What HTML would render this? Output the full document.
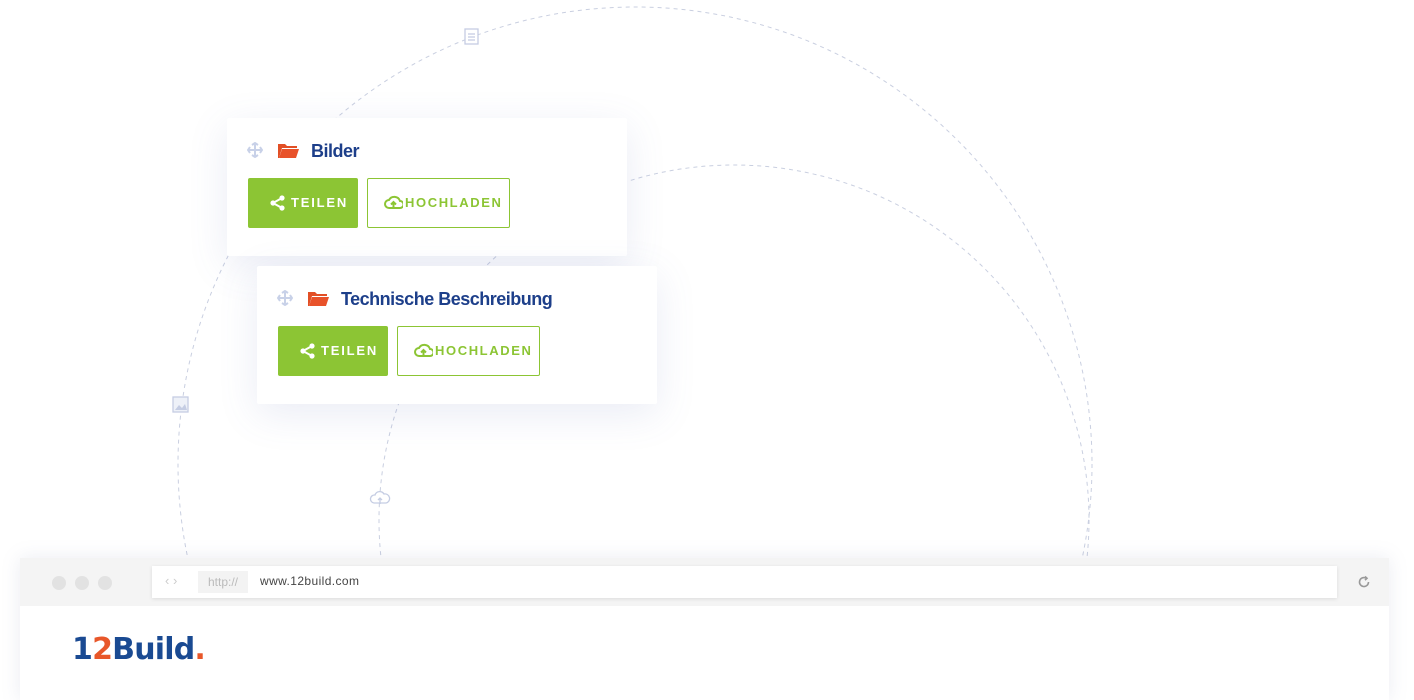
<!DOCTYPE html>
<html><head><meta charset="utf-8"><style>
*{margin:0;padding:0;box-sizing:border-box}
body{width:1414px;height:700px;background:#fff;position:relative;overflow:hidden;font-family:"Liberation Sans",sans-serif}
.card{position:absolute;background:#fff;width:400px;height:138px;box-shadow:0 10px 40px rgba(90,110,180,0.13);border-radius:2px}
.title{position:absolute;top:23px;left:84px;font-size:18px;color:#1d3f8a;font-weight:bold;letter-spacing:-0.5px}
.move{position:absolute;left:20px;top:24px}
.folder{position:absolute;left:51px;top:24px;width:21px;height:16px}
.btn1{position:absolute;left:21px;top:60px;width:110px;height:50px;background:#8cc534;border-radius:2px;color:#fff;font-weight:bold;font-size:13px;letter-spacing:1.8px;line-height:50px;padding-left:43px}
.btn1 svg{position:absolute;left:22px;top:17px}
.btn2{position:absolute;left:140px;top:60px;width:143px;height:50px;border:1px solid #8cc534;border-radius:2px;color:#8cc534;font-weight:bold;font-size:13px;letter-spacing:1.6px;line-height:48px;padding-left:37px;white-space:nowrap}
.btn2 svg{position:absolute;left:16px;top:16px}
.browser{position:absolute;left:20px;top:558px;width:1369px;height:142px;background:#fff;box-shadow:0 0 18px rgba(120,130,170,0.15)}
.bar{height:48px;background:#f4f4f4;position:relative}
.dot{position:absolute;top:18px;width:14px;height:14px;border-radius:50%;background:#e2e2e2}
.addr{position:absolute;left:132px;top:8px;width:1185px;height:32px;background:#fff;box-shadow:0 1px 4px rgba(0,0,0,0.1)}
</style></head><body>
<svg width="1414" height="700" style="position:absolute;left:0;top:0">
<circle cx="635" cy="464" r="457" fill="none" stroke="#c9cfe0" stroke-width="1" stroke-dasharray="4 4"/>
<circle cx="734" cy="520" r="355" fill="none" stroke="#c9cfe0" stroke-width="1" stroke-dasharray="4 4"/>
<g fill="#fff" stroke="#c5cde3" stroke-width="1.3">
<rect x="465" y="29" width="13" height="15"/>
<line x1="468" y1="34" x2="475" y2="34"/><line x1="468" y1="37" x2="475" y2="37"/><line x1="468" y1="40" x2="475" y2="40"/>
<rect x="173" y="397" width="15" height="15" fill="#eef1f8"/>
<path d="M175 410 l4-5 3 3 3-4 2 6z" fill="#c5cde3" stroke="none"/>
<path d="M374 503 a4 4 0 0 1 1-8 a5 5 0 0 1 9-1 a4 4 0 0 1 2 9z" />
<path d="M380 504 v-6 m-2 2 l2-2 2 2"/>
</g>
</svg>

<div class="card" style="left:227px;top:118px">
 <svg class="move" width="16" height="16" viewBox="0 0 16 16" stroke="#c8d1e8" stroke-width="2" fill="none"><path d="M8 1v14M1 8h14M5 3l3-2 3 2M5 13l3 2 3-2M3 5l-2 3 2 3M13 5l2 3-2 3"/></svg>
 <svg class="folder" viewBox="0 0 21 16"><path d="M0 2h7l2 2h10v2H4L1 16H0z" fill="#e24f25"/><path d="M4 7h17l-3 9H1z" fill="#e8522a"/></svg>
 <div class="title">Bilder</div>
 <div class="btn1"><svg width="15" height="16" viewBox="0 0 15 16" fill="#fff"><circle cx="12" cy="3" r="2.6"/><circle cx="3" cy="8" r="2.6"/><circle cx="12" cy="13" r="2.6"/><path d="M3 8L12 3M3 8l9 5" stroke="#fff" stroke-width="2"/></svg>TEILEN</div>
 <div class="btn2"><svg width="19" height="15" viewBox="0 0 19 15" fill="none" stroke="#8cc534" stroke-width="2"><path d="M5 13a4 4 0 0 1 0-8a6 6 0 0 1 11 1a3.5 3.5 0 0 1 0 7z"/><path d="M9.5 14V7M7 9.5l2.5-2.5 2.5 2.5"/></svg>HOCHLADEN</div>
</div>

<div class="card" style="left:257px;top:266px">
 <svg class="move" width="16" height="16" viewBox="0 0 16 16" stroke="#c8d1e8" stroke-width="2" fill="none"><path d="M8 1v14M1 8h14M5 3l3-2 3 2M5 13l3 2 3-2M3 5l-2 3 2 3M13 5l2 3-2 3"/></svg>
 <svg class="folder" viewBox="0 0 21 16"><path d="M0 2h7l2 2h10v2H4L1 16H0z" fill="#e24f25"/><path d="M4 7h17l-3 9H1z" fill="#e8522a"/></svg>
 <div class="title">Technische Beschreibung</div>
 <div class="btn1"><svg width="15" height="16" viewBox="0 0 15 16" fill="#fff"><circle cx="12" cy="3" r="2.6"/><circle cx="3" cy="8" r="2.6"/><circle cx="12" cy="13" r="2.6"/><path d="M3 8L12 3M3 8l9 5" stroke="#fff" stroke-width="2"/></svg>TEILEN</div>
 <div class="btn2"><svg width="19" height="15" viewBox="0 0 19 15" fill="none" stroke="#8cc534" stroke-width="2"><path d="M5 13a4 4 0 0 1 0-8a6 6 0 0 1 11 1a3.5 3.5 0 0 1 0 7z"/><path d="M9.5 14V7M7 9.5l2.5-2.5 2.5 2.5"/></svg>HOCHLADEN</div>
</div>

<div class="browser">
 <div class="bar">
  <div class="dot" style="left:32px"></div><div class="dot" style="left:55px"></div><div class="dot" style="left:78px"></div>
  <div class="addr">
   <span style="position:absolute;left:13px;top:7px;color:#ccc;font-size:13px">‹ ›</span>
   <div style="position:absolute;left:46px;top:5px;width:50px;height:22px;background:#f3f3f3;color:#bbb;font-size:12px;line-height:22px;text-align:center">http://</div>
   <span style="position:absolute;left:108px;top:8px;color:#444;font-size:12px;letter-spacing:0.4px">www.12build.com</span>
  </div>
  <svg style="position:absolute;left:1337px;top:17px" width="14" height="14" viewBox="0 0 14 14" fill="none" stroke="#999" stroke-width="1.6"><path d="M11.5 7A4.5 4.5 0 1 1 9 3"/><path d="M8 1.5l2 1.8-2 1.8" /></svg>
 </div>
 <div style="position:absolute;left:52px;top:74px;font-family:'DejaVu Sans',sans-serif;font-weight:bold;font-size:30px;letter-spacing:-0.8px;color:#1a4a92"><span>1</span><span style="color:#e8572a">2</span><span>Build</span><span style="color:#e8572a">.</span></div>
</div>
</body></html>
